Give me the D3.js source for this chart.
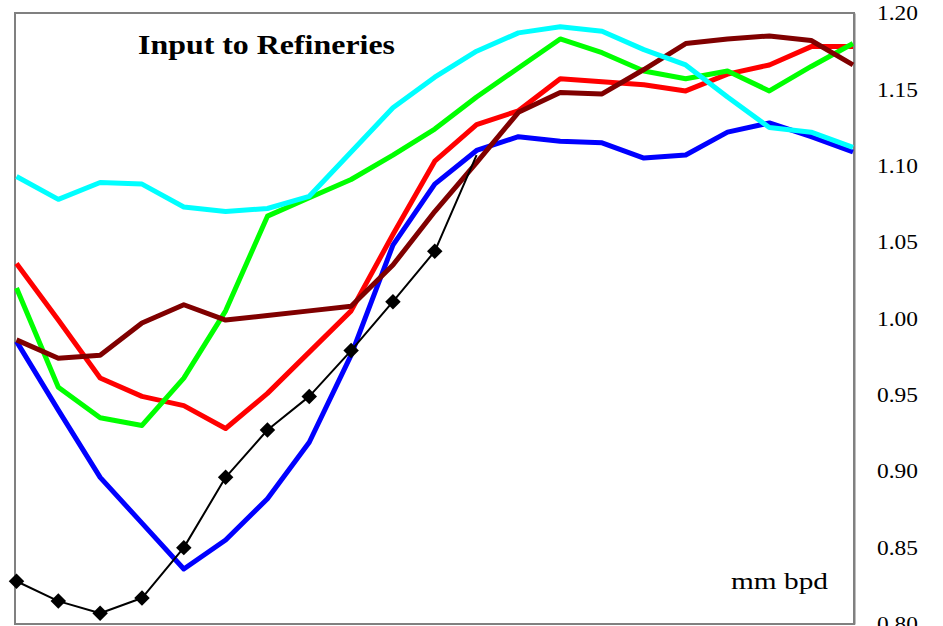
<!DOCTYPE html>
<html><head><meta charset="utf-8">
<script src="https://cdn.jsdelivr.net/npm/d3@7"></script>
<style>html,body{margin:0;padding:0;background:#fff;overflow:hidden}</style>
</head><body>
<script>
const categories = ["1","2","3","4","5","6","7","8","9","10","11","12","13","14","15","16","17","18","19","20","21"];
const blueSeries  = [0.985,0.940,0.896,0.866,0.836,0.855,0.882,0.919,0.976,1.048,1.088,1.110,1.119,1.116,1.115,1.105,1.107,1.122,1.128,1.119,1.109];
const redSeries   = [1.036,0.999,0.961,0.949,0.943,0.928,0.951,0.978,1.005,1.055,1.103,1.127,1.136,1.157,1.155,1.153,1.149,1.160,1.166,1.178,1.178];
const greenSeries = [1.020,0.955,0.935,0.930,0.961,1.005,1.067,1.079,1.091,1.107,1.124,1.145,1.164,1.183,1.174,1.162,1.157,1.162,1.149,1.165,1.180];
const brownSeries = [0.986,0.974,0.976,0.997,1.009,0.999,1.002,1.005,1.008,1.035,1.070,1.102,1.135,1.148,1.147,1.163,1.180,1.183,1.185,1.182,1.166];
const cyanSeries  = [1.093,1.078,1.089,1.088,1.073,1.070,1.072,1.080,1.109,1.138,1.158,1.175,1.187,1.191,1.188,1.176,1.166,1.145,1.125,1.122,1.112];
const blackSeries = [0.828,0.815,0.807,0.817,0.850,0.896,0.927,0.949,0.979,1.011,1.044,1.107];
const yTicks = [0.80,0.85,0.90,0.95,1.00,1.05,1.10,1.15,1.20];
const title = "Input to Refineries";
const unitLabel = "mm bpd";

const W = 943, H = 626;
const svg = d3.select("body").append("svg").attr("width", W).attr("height", H);
const frame = {left: 15, right: 854, top: 13, bottom: 624};
const x = d3.scalePoint().domain(categories).range([16.5, 853]);
const y = d3.scaleLinear().domain([0.80, 1.20]).range([frame.bottom, frame.top]);

// frame
svg.append("rect").attr("x", frame.left).attr("y", frame.top)
  .attr("width", frame.right - frame.left).attr("height", frame.bottom - frame.top)
  .attr("fill", "#fff").attr("stroke", "#808080").attr("stroke-width", 2);

// right axis labels
const axis = d3.axisRight(y).tickValues(yTicks).tickFormat(d3.format(".2f")).tickSize(0).tickPadding(23);
const ag = svg.append("g").attr("transform", `translate(${frame.right},0)`).call(axis);
ag.select(".domain").attr("stroke", "#808080").attr("stroke-width", 2);
ag.selectAll("text").attr("font-family", "'Liberation Serif', 'Times New Roman', serif")
  .attr("font-size", 21).attr("fill", "#000")
  .attr("textLength", 41).attr("lengthAdjust", "spacingAndGlyphs");

const line = d3.line().x((d, i) => x(categories[i])).y(d => y(d));
const series = [
  {v: blueSeries, c: "#0000ff", w: 5},
  {v: redSeries, c: "#ff0000", w: 5},
  {v: greenSeries, c: "#00ff00", w: 5},
  {v: brownSeries, c: "#800000", w: 5},
  {v: cyanSeries, c: "#00ffff", w: 5},
  {v: blackSeries, c: "#000000", w: 2}
];
svg.selectAll("path.series").data(series).enter().append("path")
  .attr("class", "series").attr("d", d => line(d.v))
  .attr("fill", "none").attr("stroke", d => d.c).attr("stroke-width", d => d.w)
  .attr("stroke-linejoin", "round");

const diamond = d3.symbol().type(d3.symbolSquare).size(120);
svg.selectAll("path.marker").data(blackSeries.slice(0, blackSeries.length - 1)).enter().append("path")
  .attr("class", "marker").attr("d", diamond)
  .attr("transform", (d, i) => `translate(${x(categories[i])},${y(d)}) rotate(45)`)
  .attr("fill", "#000");

svg.append("text").attr("x", 138).attr("y", 54).text(title)
  .attr("font-family", "'Liberation Serif', 'Times New Roman', serif")
  .attr("font-weight", "bold").attr("font-size", 27)
  .attr("textLength", 257).attr("lengthAdjust", "spacingAndGlyphs");

svg.append("text").attr("x", 731).attr("y", 589).text(unitLabel)
  .attr("font-family", "'Liberation Serif', 'Times New Roman', serif")
  .attr("font-size", 23)
  .attr("textLength", 97).attr("lengthAdjust", "spacingAndGlyphs");
</script>
</body></html>
